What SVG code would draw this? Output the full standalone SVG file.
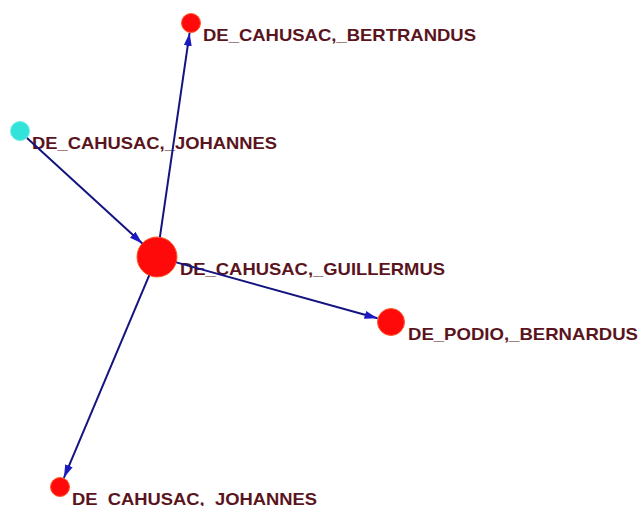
<svg xmlns="http://www.w3.org/2000/svg" width="639" height="506" viewBox="0 0 639 506">
<style>
.n{fill:#ff0a0a;stroke:#ff5a2a;stroke-width:1}
.c{fill:#33e3da;stroke:#66eee6;stroke-width:1}
.l{font-family:"Liberation Sans",Arial,sans-serif;font-size:17px;font-weight:bold;fill:#5a1420}
.e{stroke:#141480;stroke-width:2;fill:none}
</style>
<defs>
<marker id="a" markerUnits="userSpaceOnUse" markerWidth="14" markerHeight="10" refX="13" refY="4" orient="auto">
<path d="M0,0 L13,4 L0,8 z" fill="#1a1ac0"/>
</marker>
</defs>
<rect width="639" height="506" fill="#ffffff"/>
<g id="node-bertrandus">
<circle class="n" cx="191" cy="23" r="9.5"/>
<text class="l" x="203" y="41" textLength="273" lengthAdjust="spacingAndGlyphs">DE_CAHUSAC,_BERTRANDUS</text>
</g>
<g id="node-johannes-top">
<circle class="c" cx="20" cy="131" r="9.5"/>
<text class="l" x="32" y="149" textLength="245" lengthAdjust="spacingAndGlyphs">DE_CAHUSAC,_JOHANNES</text>
</g>
<g id="node-guillermus">
<circle class="n" cx="157" cy="257" r="20"/>
<text class="l" x="180" y="275" textLength="265" lengthAdjust="spacingAndGlyphs">DE_CAHUSAC,_GUILLERMUS</text>
</g>
<g id="node-bernardus">
<circle class="n" cx="391" cy="322" r="13.5"/>
<text class="l" x="408" y="340" textLength="230" lengthAdjust="spacingAndGlyphs">DE_PODIO,_BERNARDUS</text>
</g>
<g id="node-johannes-bottom">
<circle class="n" cx="60" cy="487" r="9.5"/>
<text class="l" x="72" y="505" textLength="245" lengthAdjust="spacingAndGlyphs">DE_CAHUSAC,_JOHANNES</text>
</g>
<g id="connectors">
<line class="e" x1="27" y1="138" x2="142.3" y2="243.5" marker-end="url(#a)"/>
<line class="e" x1="159.9" y1="237.2" x2="189.6" y2="32.9" marker-end="url(#a)"/>
<line class="e" x1="176.3" y1="262.4" x2="377.5" y2="318.3" marker-end="url(#a)"/>
<line class="e" x1="149.2" y1="275.4" x2="63.9" y2="477.8" marker-end="url(#a)"/>
</g>
</svg>
